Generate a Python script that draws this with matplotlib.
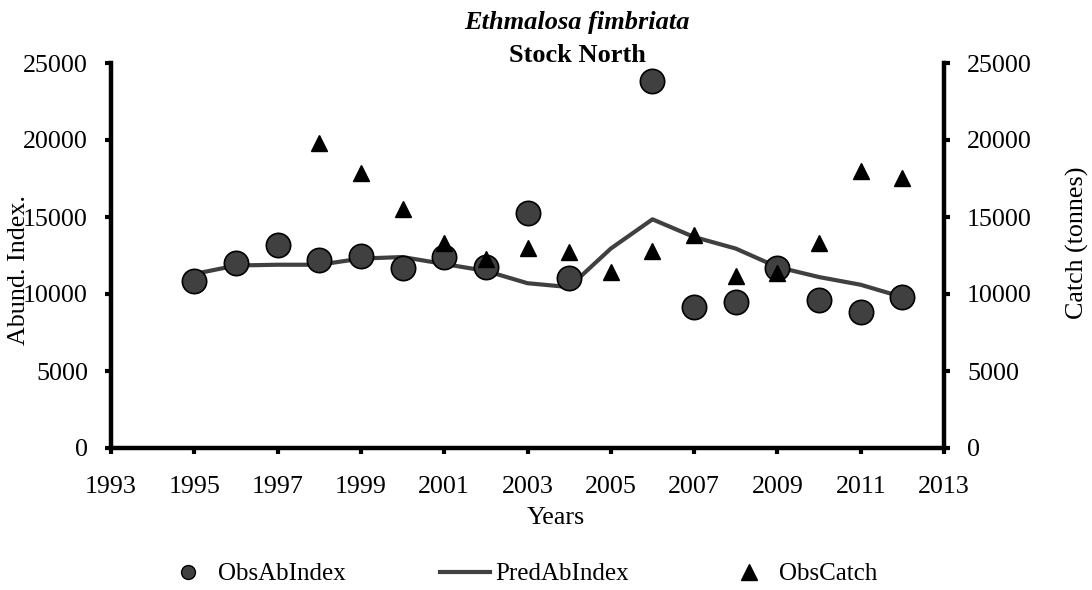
import matplotlib.pyplot as plt
from matplotlib.lines import Line2D

plt.rcParams['font.family'] = ['Liberation Serif', 'DejaVu Serif']

years = [1995, 1996, 1997, 1998, 1999, 2000, 2001, 2002, 2003,
         2004, 2005, 2006, 2007, 2008, 2009, 2010, 2011, 2012]
obs_years = [1995, 1996, 1997, 1998, 1999, 2000, 2001, 2002, 2003,
             2004, 2006, 2007, 2008, 2009, 2010, 2011, 2012]
obs_ab_index = [10850, 12010, 13180, 12200, 12470, 11690, 12400, 11750, 15260,
                11040, 23830, 9160, 9480, 11690, 9610, 8830, 9810]
pred_ab_index = [11300, 11850, 11900, 11900, 12300, 12400, 11950, 11500, 10700,
                 10450, 12950, 14850, 13700, 12950, 11750, 11100, 10600, 9800]
catch_years = [1998, 1999, 2000, 2001, 2002, 2003, 2004, 2005, 2006,
               2007, 2008, 2009, 2010, 2011, 2012]
obs_catch = [19800, 17860, 15520, 13310, 12270, 12990, 12730, 11430, 12790,
             13830, 11170, 11370, 13310, 17990, 17530]

grey = '#404040'
fs = 18.7

fig = plt.figure(figsize=(10.92, 5.90), dpi=100)
# axes box: x 111..944 px, y 63..448 px
ax = fig.add_axes([111 / 1092, 1 - 448 / 590, 833 / 1092, 385 / 590])
ax2 = ax.twinx()

ax.plot(years, pred_ab_index, color=grey, lw=3, zorder=2)
ax.plot(obs_years, obs_ab_index, 'o', ms=17.5, mfc=grey, mec='black', mew=1.2, zorder=3)
ax2.plot(catch_years, obs_catch, '^', ms=12, color='black', zorder=3)

for a in (ax, ax2):
    a.set_xlim(1993, 2013)
    a.set_ylim(0, 25000)
    a.spines['top'].set_visible(False)
    for s in ('left', 'right', 'bottom'):
        a.spines[s].set_linewidth(3.2)
    a.tick_params(axis='y', direction='out', length=4.5, width=3, labelsize=fs, pad=12)
    a.tick_params(axis='x', direction='out', length=4.5, width=3, labelsize=fs, pad=16)

ax.spines['right'].set_visible(False)
ax2.spines['left'].set_visible(False)
ax2.spines['bottom'].set_visible(False)

ax.set_xticks(range(1993, 2014, 2))
ax.set_yticks(range(0, 25001, 5000))
ax2.set_yticks(range(0, 25001, 5000))

# axis titles placed by their centres
fig.text(556 / 1092, 1 - 518 / 590, 'Years', fontsize=fs, ha='center', va='center')
fig.text(19 / 1092, 1 - 270 / 590, 'Abund. Index.', fontsize=fs, rotation=90,
         ha='center', va='center')
fig.text(1077 / 1092, 1 - 243 / 590, 'Catch (tonnes)', fontsize=fs, rotation=90,
         ha='center', va='center')

fig.text(577 / 1092, 1 - 22 / 590, 'Ethmalosa fimbriata', fontsize=19,
         fontweight='bold', style='italic', ha='center', va='center')
fig.text(577 / 1092, 1 - 55 / 590, 'Stock North', fontsize=19,
         fontweight='bold', ha='center', va='center')

handles = [
    Line2D([], [], ls='none', marker='o', ms=10, mfc=grey, mec='black', mew=1),
    Line2D([], [], color=grey, lw=3),
    Line2D([], [], ls='none', marker='^', ms=11, color='black'),
]
labels = ['ObsAbIndex', 'PredAbIndex', 'ObsCatch']
fig.legend(handles, labels, loc='center', bbox_to_anchor=(520 / 1092, 0.027),
           ncol=3, frameon=False, fontsize=18, handlelength=2.0,
           handletextpad=0.2, columnspacing=3.8)

fig.savefig('out.png', dpi=100)
